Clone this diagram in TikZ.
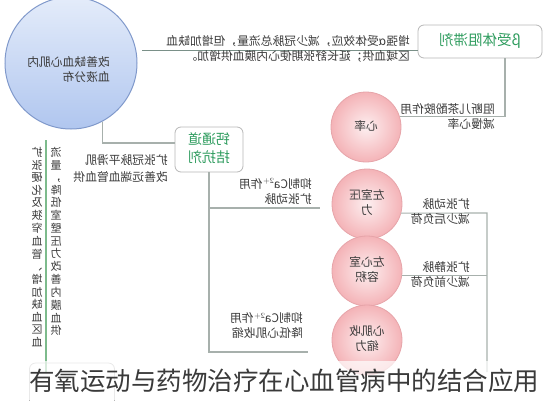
\documentclass[tikz,border=0pt]{standalone}
\usepackage{fontspec}
\setmainfont{Noto Sans CJK SC}
\usepackage{graphicx}
\usetikzlibrary{positioning, calc}

\definecolor{bordoblu}{HTML}{8099CB}
\definecolor{bluchiaro}{HTML}{E4ECFA}
\definecolor{bluscuro}{HTML}{B0C6EF}
\definecolor{rosachiaro}{HTML}{FDEFF0}
\definecolor{rosascuro}{HTML}{F4B3B7}
\definecolor{bordorosa}{HTML}{E6A4A9}
\definecolor{verdetesto}{HTML}{2E9C5E}
\definecolor{verdelinea}{HTML}{7DBB8C}
\definecolor{grigiolinea}{HTML}{A7B0AC}
\definecolor{grigioscuro}{HTML}{7A9088}
\definecolor{grigiobordo}{HTML}{B7B7B7}
\definecolor{scuro}{HTML}{3A3A3A}

% testo speculare
\newcommand{\specchio}[1]{\reflectbox{\begin{tabular}{@{}l@{}}#1\end{tabular}}}
\newcommand{\specchioc}[1]{\reflectbox{\begin{tabular}{@{}c@{}}#1\end{tabular}}}

\tikzset{
  conn/.style={draw=grigiolinea, line width=1.1pt},
  nota/.style={text=scuro, inner sep=0pt, anchor=east, font=\fontsize{11.8}{15}\selectfont},
  cerchio/.style={circle, draw=bordorosa, line width=0.8pt, inner color=rosachiaro, outer color=rosascuro, minimum size=70pt, inner sep=0pt, text=scuro, font=\fontsize{11.8}{15}\selectfont},
  scatola/.style={draw=grigiobordo, line width=0.8pt, rounded corners=6pt, fill=white, text=verdetesto, inner sep=0pt},
  colonna/.style={text=scuro, inner sep=0pt, font=\fontsize{11}{12}\selectfont},
}

\begin{document}
\begin{tikzpicture}[x=1pt,y=-1pt]
            \useasboundingbox (0,0) rectangle (543,400);
            % nodi
            \node[circle, draw=bordoblu, line width=1pt, top color=bluchiaro, bottom color=bluscuro, minimum size=132pt] (blu) at (71,63) {};
            \node[nota] (tblu) at (110,71) {\specchio{改善缺血心肌内\\血液分布}};
            \node[scatola, minimum width=124pt, minimum height=33pt, font=\fontsize{14.5}{16}\selectfont] (beta) at (480,41.5) {\specchioc{β受体阻滞剂}};
            \node[scatola, minimum width=68pt, minimum height=45pt, font=\fontsize{14}{18}\selectfont] (calcio) at (209,149.5) {\specchioc{钙通道\\拮抗剂}};
            \node[cerchio] (hr) at (366,127) {\specchioc{心率}};
            \node[cerchio] (lvp) at (367,204) {\specchioc{左室压\\力}};
            \node[cerchio] (lvv) at (367,271) {\specchioc{左心室\\容积}};
            \node[cerchio] (mc) at (367,340) {\specchioc{心肌收\\缩力}};
            \node[scatola, minimum width=85pt, minimum height=44pt] (aerobico) at (72,385) {};
            % collegamenti
            \coordinate (v1) at (46,140);
            \coordinate (v2) at (46,372);
            \coordinate (sx1) at (320,208);
            \coordinate (sx2) at (308,352);
            \coordinate (dx1) at (487,213);
            \coordinate (dx2) at (487,372);
            \draw[conn, draw=grigioscuro, shorten <=6pt] (blu.11) -- (blu.11 -| beta.west);
            \draw[conn] (beta.south -| 505,0) |- (hr.17);
            \draw[conn] (blu.-62) |- (calcio.west |- 0,143);
            \draw[conn] (calcio.south) |- (sx2);
            \draw[conn] (calcio.south |- sx1) -- (sx1);
            \draw[conn] (lvp.-15) -- (dx1) -- (dx2);
            \draw[conn] (lvv.-8) -- (lvv.-8 -| dx1);
            \draw[draw=verdelinea, line width=1.2pt] (v1) -- (v2);
            % label
            \node[nota] (tbeta) at (410,50) {\specchio{增强α受体效应，减少冠脉总流量，但增加缺血\\区域血供；延长舒张期使心内膜血供增加。}};
            \node[nota] (thr) at (495,117.5) {\specchio{阻断儿茶酚胺作用\\减慢心率}};
            \node[nota, font=\fontsize{11.8}{17}\selectfont] (tcal) at (168,170) {\specchio{扩张冠脉平滑肌\\改善远端血管血供}};
            \node[nota] (tca1) at (312,192.5) {\specchio{抑制Ca$^{2+}$作用\\扩张动脉}};
            \node[nota] (tpost) at (470,213) {\specchio{扩张动脉\\减少后负荷}};
            \node[nota] (tpre) at (470,276) {\specchio{扩张静脉\\减少前负荷}};
            \node[nota] (tca2) at (303,327) {\specchio{抑制Ca$^{2+}$作用\\降低心肌收缩}};
            \node[colonna] (col1) at (56,243) {\specchioc{流\\量\\，\\降\\低\\室\\壁\\压\\力\\改\\善\\内\\膜\\血\\供}};
            \node[colonna] (col2) at (37,249) {\specchioc{扩\\张\\硬\\化\\及\\狭\\窄\\血\\管\\、\\增\\加\\缺\\血\\区\\血}};
            % titolo
            \fill[white, opacity=0.7] (0,361) rectangle (543,400);
            \node[text=scuro, inner sep=0pt, font=\fontsize{25.5}{27}\selectfont] (tit) at (284,381) {有氧运动与药物治疗在心血管病中的结合应用};
        \end{tikzpicture}
\end{document}
